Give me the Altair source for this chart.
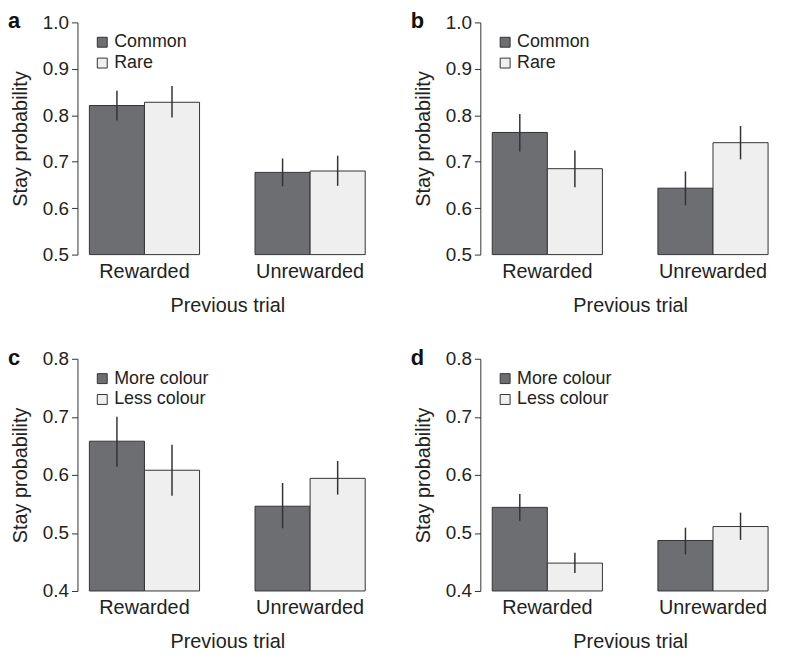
import altair as alt
import pandas as pd

groups = ["Rewarded", "Unrewarded"]

# Panel a (Common / Rare)
a_conds = ["Common", "Rare"]
a_c1 = [0.821, 0.677]; a_c1_lo = [0.789, 0.647]; a_c1_hi = [0.853, 0.707]
a_c2 = [0.828, 0.680]; a_c2_lo = [0.795, 0.648]; a_c2_hi = [0.863, 0.713]

# Panel b (Common / Rare)
b_conds = ["Common", "Rare"]
b_c1 = [0.763, 0.643]; b_c1_lo = [0.722, 0.606]; b_c1_hi = [0.803, 0.679]
b_c2 = [0.685, 0.741]; b_c2_lo = [0.645, 0.705]; b_c2_hi = [0.724, 0.777]

# Panel c (More / Less colour)
c_conds = ["More colour", "Less colour"]
c_c1 = [0.658, 0.546]; c_c1_lo = [0.614, 0.508]; c_c1_hi = [0.700, 0.586]
c_c2 = [0.608, 0.594]; c_c2_lo = [0.564, 0.566]; c_c2_hi = [0.652, 0.624]

# Panel d (More / Less colour)
d_conds = ["More colour", "Less colour"]
d_c1 = [0.544, 0.487]; d_c1_lo = [0.521, 0.463]; d_c1_hi = [0.567, 0.509]
d_c2 = [0.448, 0.511]; d_c2_lo = [0.431, 0.488]; d_c2_hi = [0.466, 0.535]

ticks_ab = [0.5, 0.6, 0.7, 0.8, 0.9, 1.0]
ticks_cd = [0.4, 0.5, 0.6, 0.7, 0.8]

DARK = "#6d6e72"
LIGHT = "#eeefee"
INK = "#333333"
FONT = "Liberation Sans"


def panel(letter, conds, v1, lo1, hi1, v2, lo2, hi2, ticks):
    rows = []
    for i, g in enumerate(groups):
        rows.append({"group": g, "cond": conds[0], "value": v1[i], "lo": lo1[i], "hi": hi1[i]})
        rows.append({"group": g, "cond": conds[1], "value": v2[i], "lo": lo2[i], "hi": hi2[i]})
    df = pd.DataFrame(rows)
    ymin, ymax = ticks[0], ticks[-1]
    base = alt.Chart(df)
    x = alt.X("group:N", sort=groups,
              scale=alt.Scale(paddingInner=0.335, paddingOuter=0.072),
              axis=alt.Axis(title="Previous trial", labelAngle=0, domain=False, ticks=False,
                            labelPadding=7, titlePadding=14, labelFontSize=20,
                            titleFontSize=20, titleFontWeight="normal",
                            labelColor="#222", titleColor="#222"))
    xo = alt.XOffset("cond:N", sort=conds,
                     scale=alt.Scale(domain=conds, paddingInner=0, paddingOuter=0))
    y = alt.Y("value:Q",
              scale=alt.Scale(domain=[ymin, ymax], zero=False, nice=False),
              axis=alt.Axis(title="Stay probability", values=ticks, format=".1f", grid=False,
                            tickSize=6, labelPadding=3, titlePadding=12,
                            labelFontSize=19, titleFontSize=20, titleFontWeight="normal",
                            domainColor=INK, tickColor=INK, labelColor="#222",
                            titleColor="#222"))
    bars = base.mark_bar(stroke=INK, strokeWidth=1).encode(
        x=x, xOffset=xo, y=y, y2=alt.Y2(datum=ymin),
        fill=alt.Fill("cond:N", sort=conds,
                      scale=alt.Scale(domain=conds, range=[DARK, LIGHT]),
                      legend=alt.Legend(title=None, orient="none", legendX=16, legendY=11,
                                        symbolType="square", symbolSize=100,
                                        symbolStrokeColor=INK, symbolStrokeWidth=1,
                                        labelFontSize=18, labelColor="#222",
                                        labelOffset=3, rowPadding=3, padding=0)),
    )
    err = base.mark_rule(color=INK, strokeWidth=1.5).encode(
        x=x, xOffset=xo, y="lo:Q", y2="hi:Q")
    lab = alt.Chart(pd.DataFrame({"t": [letter]})).mark_text(
        font=FONT, fontSize=22, fontWeight="bold", align="left", baseline="top",
        color="#111").encode(text="t:N", x=alt.value(-70), y=alt.value(-11))
    return alt.layer(bars, err, lab).properties(width=302, height=234)


pa = panel("a", a_conds, a_c1, a_c1_lo, a_c1_hi, a_c2, a_c2_lo, a_c2_hi, ticks_ab)
pb = panel("b", b_conds, b_c1, b_c1_lo, b_c1_hi, b_c2, b_c2_lo, b_c2_hi, ticks_ab)
pc = panel("c", c_conds, c_c1, c_c1_lo, c_c1_hi, c_c2, c_c2_lo, c_c2_hi, ticks_cd)
pd_ = panel("d", d_conds, d_c1, d_c1_lo, d_c1_hi, d_c2, d_c2_lo, d_c2_hi, ticks_cd)

indep = dict(fill="independent", y="independent", xOffset="independent")
row1 = alt.hconcat(pa, pb, spacing=34).resolve_scale(**indep)
row2 = alt.hconcat(pc, pd_, spacing=34).resolve_scale(**indep)
chart = alt.vconcat(row1, row2, spacing=32).resolve_scale(**indep).properties(
    padding=0, background="white"
).configure(font=FONT, view=alt.ViewConfig(stroke=None))

chart.save("out.html", embed_options={"renderer": "svg", "actions": False})
